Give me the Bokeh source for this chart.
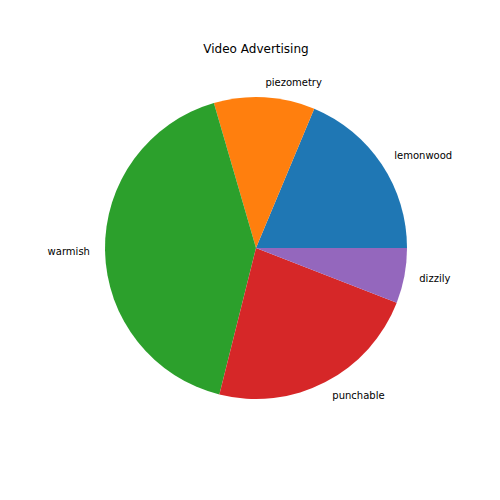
import numpy as np
from bokeh.plotting import figure
from bokeh.models import Range1d, ColumnDataSource
from bokeh.core.properties import value
from bokeh.embed import file_html
from bokeh.resources import INLINE

labels = ["lemonwood", "piezometry", "warmish", "punchable", "dizzily"]
values = [18.7, 10.8, 41.6, 23.0, 5.9]
colors = ["#1f77b4", "#ff7f0e", "#2ca02c", "#d62728", "#9467bd"]
title = "Video Advertising"

W = H = 484
cx, cy = 255.5, 247.5  # pie centre in figure pixels (from top-left)
R = 151

p = figure(width=W, height=H, output_backend="svg", toolbar_location=None,
           x_range=Range1d(-cx, W - cx), y_range=Range1d(-(H - cy), cy),
           min_border=0, outline_line_color=None)
p.axis.visible = False
p.grid.visible = False
p.background_fill_color = "white"
p.border_fill_color = "white"

vals = np.array(values, dtype=float)
frac = vals / vals.sum()
ends = np.cumsum(frac) * 2 * np.pi
starts = np.concatenate([[0.0], ends[:-1]])
mids = (starts + ends) / 2

src = ColumnDataSource(dict(start=starts, end=ends, color=colors))
p.wedge(x=0, y=0, radius=R, start_angle="start", end_angle="end",
        fill_color="color", line_color=None, source=src)

lx = 1.1 * R * np.cos(mids)
ly = 1.1 * R * np.sin(mids)
align = ["left" if x > 0 else "right" for x in lx]
lsrc = ColumnDataSource(dict(x=lx, y=ly, t=labels, a=align))
p.text(x="x", y="y", text="t", text_align="a", text_baseline="middle",
       text_font=value("DejaVu Sans"), text_font_size="10px",
       text_color="black", source=lsrc)

p.text(x=[0], y=[cy - 48.5], text=[title], text_align="center",
       text_baseline="middle", text_font=value("DejaVu Sans"),
       text_font_size="12px", text_color="black")

open("out.html", "w").write(file_html(p, INLINE))
